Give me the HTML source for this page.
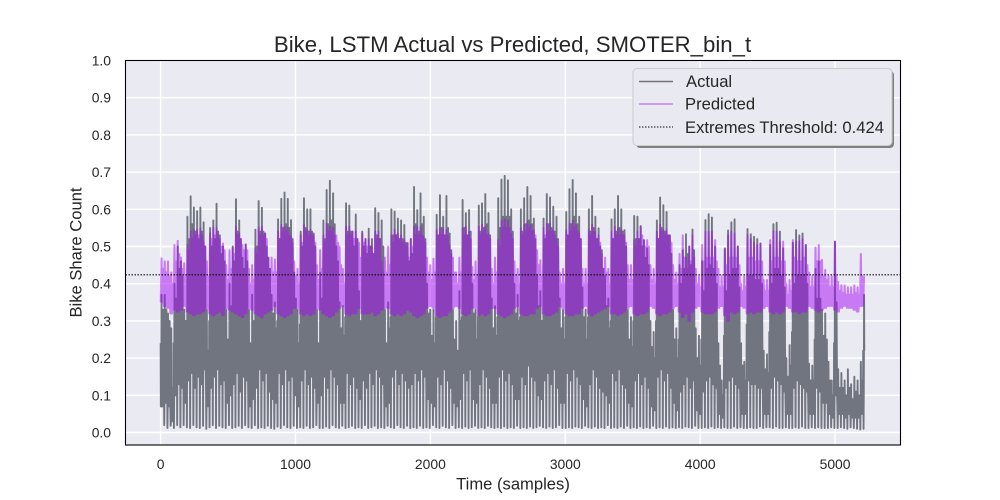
<!DOCTYPE html>
<html lang="en">
<head>
<meta charset="utf-8">
<title>Bike, LSTM Actual vs Predicted, SMOTER_bin_t</title>
<style>
html,body{margin:0;padding:0;background:#fff;}
svg{display:block;}
text{font-family:"Liberation Sans",Arial,sans-serif;fill:#262626;}
</style>
</head>
<body>
<svg id="chart" width="1000" height="500" viewBox="0 0 1000 500" xmlns="http://www.w3.org/2000/svg">
  <rect x="125.5" y="60.5" width="775" height="384.5" fill="#eaeaf2"/>
  <g id="grid"></g>
  <g id="series"></g>
  <rect x="125.5" y="60.5" width="775" height="384.5" fill="none" stroke="#000" stroke-width="1.1"/>
  <g id="ticks"></g>
  <text x="512.5" y="52" text-anchor="middle" font-size="22.2">Bike, LSTM Actual vs Predicted, SMOTER_bin_t</text>
  <text x="513" y="489.5" text-anchor="middle" font-size="16.6">Time (samples)</text>
  <text transform="translate(81.5,252.5) rotate(-90)" text-anchor="middle" font-size="16.6">Bike Share Count</text>
  <g>
    <rect x="636" y="71" width="258" height="77" rx="4" fill="#808080"/>
    <rect x="633" y="68.5" width="259" height="77" rx="4" fill="#e9e9f1" stroke="#cccccc"/>
    <line x1="639" x2="673" y1="81.5" y2="81.5" stroke="#71757f" stroke-width="1.4"/>
    <text x="686" y="87" font-size="16.6">Actual</text>
    <line x1="639" x2="673" y1="104" y2="104" stroke="#c87af5" stroke-width="1.4"/>
    <text x="685" y="109.5" font-size="16.6">Predicted</text>
    <line x1="639" x2="673" y1="127" y2="127" stroke="#000" stroke-width="1.1" stroke-dasharray="1.4 1.6"/>
    <text x="685" y="133" font-size="16.6">Extremes Threshold: 0.424</text>
  </g>
</svg>
<script>
const xTickValues = [0,1000,2000,3000,4000,5000];
const yTickValues = [0,0.1,0.2,0.3,0.4,0.5,0.6,0.7,0.8,0.9,1];
const thresholdValues = [0.424];
const totalSamples = [5217];
const samplesPerDay = [24];

// One entry per day of the hourly series.
const actualPeak = [
.37,.37,.32,.28,.40,.50,.46,.33,
.58,.635,.605,.595,.605,.565,.33,
.55,.57,.615,.53,.50,.33,.40,
.50,.627,.57,.47,.505,.33,.37,
.545,.622,.604,.535,.47,.37,.35,
.573,.628,.645,.628,.571,.43,.33,
.54,.63,.60,.60,.535,.33,.43,
.57,.652,.677,.643,.50,.35,.34,
.616,.61,.54,.586,.38,.54,.52,.548,.52,.603,.59,.57,.33,.35,
.60,.594,.575,.57,.558,.508,
.52,.66,.598,.643,.58,.40,.33,.33,
.585,.638,.58,.636,.535,.33,.30,.38,
.625,.59,.598,.40,.33,
.61,.616,.641,.59,.36,.34,
.63,.68,.69,.678,.60,.40,.37,
.60,.63,.66,.636,.575,.42,.38,
.575,.641,.632,.607,.58,.36,.33,
.593,.654,.679,.643,.58,.39,.33,
.60,.636,.58,.549,.49,.42,.36,
.573,.60,.636,.60,.544,.33,.31,
.582,.58,.555,.517,.495,.30,.27,
.57,.632,.611,.593,.53,.33,.28,
.45,.49,.533,.50,.546,.28,.26,
.46,.571,.587,.578,.50,.24,.14,
.495,.543,.565,.573,.50,.24,.19,
.547,.533,.526,.52,.508,.22,.21,
.504,.56,.564,.54,.495,.20,.235,
.51,.544,.53,.535,.504,.185,.18,
.44,.46,.33,.32,.19,.14,.513,
.17,.16,.14,.17,.13,.15,.14,.19,.37];

const actualSecond = [
.33,.33,.30,.12,.36,.44,.42,.30,
.52,.56,.54,.52,.54,.50,.22,
.50,.52,.54,.48,.46,.25,.34,
.46,.54,.52,.44,.46,.24,.30,
.50,.54,.54,.50,.44,.32,.28,
.52,.55,.56,.55,.52,.36,.24,
.50,.55,.54,.54,.50,.24,.36,
.52,.56,.57,.56,.46,.28,.26,
.54,.54,.50,.52,.30,.50,.48,.50,.48,.53,.52,.50,.24,.28,
.53,.53,.52,.52,.51,.46,
.48,.56,.54,.56,.52,.32,.26,.24,
.53,.55,.53,.55,.49,.25,.22,.30,
.55,.53,.54,.32,.25,
.54,.55,.56,.53,.28,.26,
.55,.58,.58,.58,.54,.32,.30,
.54,.56,.57,.56,.52,.34,.30,
.52,.56,.55,.54,.52,.28,.25,
.53,.56,.58,.56,.52,.31,.25,
.54,.55,.52,.50,.44,.34,.28,
.52,.54,.55,.54,.50,.25,.23,
.52,.52,.50,.47,.45,.23,.20,
.52,.55,.54,.53,.48,.25,.20,
.40,.44,.48,.45,.49,.20,.18,
.38,.44,.45,.44,.40,.18,.10,
.38,.42,.44,.44,.39,.18,.14,
.42,.42,.41,.41,.40,.17,.16,
.40,.44,.44,.42,.39,.15,.18,
.40,.42,.42,.42,.40,.14,.14,
.36,.36,.26,.25,.14,.10,.35,
.12,.12,.10,.12,.09,.11,.10,.14,.33];

const actualMid = [
.24,.24,.20,.07,.24,.28,.26,.18,
.30,.31,.31,.30,.30,.29,.13,
.30,.30,.31,.29,.28,.15,.20,
.28,.31,.30,.28,.28,.14,.18,
.29,.31,.31,.30,.27,.19,.16,
.30,.31,.31,.31,.30,.20,.14,
.29,.31,.31,.30,.29,.14,.20,
.30,.31,.31,.31,.28,.16,.15,
.31,.31,.29,.30,.18,.29,.28,.30,.28,.31,.30,.29,.14,.16,
.31,.31,.30,.30,.30,.27,
.28,.31,.31,.31,.30,.19,.15,.14,
.31,.31,.31,.31,.29,.15,.13,.18,
.31,.31,.31,.19,.15,
.31,.31,.31,.31,.17,.15,
.31,.31,.31,.31,.31,.19,.18,
.31,.31,.31,.31,.30,.20,.18,
.30,.31,.31,.31,.30,.17,.15,
.31,.31,.31,.31,.30,.18,.15,
.31,.31,.30,.29,.26,.20,.17,
.30,.31,.31,.31,.29,.15,.14,
.30,.30,.29,.28,.27,.14,.12,
.30,.31,.31,.31,.28,.15,.12,
.25,.27,.29,.27,.29,.12,.11,
.25,.29,.30,.29,.27,.11,.07,
.26,.29,.30,.30,.27,.11,.09,
.29,.29,.28,.28,.27,.10,.10,
.27,.30,.30,.29,.27,.09,.11,
.27,.29,.29,.29,.27,.09,.09,
.25,.25,.18,.17,.09,.07,.24,
.08,.08,.07,.08,.06,.07,.07,.09,.22];

const actualShoulder = [
.07,.08,.07,.03,.10,.13,.12,.08,
.14,.16,.12,.15,.13,.17,.07,
.12,.15,.17,.13,.14,.08,.10,
.13,.16,.11,.15,.14,.07,.09,
.12,.17,.14,.16,.11,.09,.08,
.16,.13,.17,.14,.15,.10,.07,
.14,.17,.13,.15,.12,.08,.10,
.15,.12,.17,.15,.13,.08,.08,
.16,.13,.15,.12,.09,.14,.12,.16,.13,.17,.15,.13,.07,.08,
.15,.17,.13,.16,.14,.12,
.13,.16,.14,.17,.15,.09,.08,.07,
.15,.13,.17,.14,.12,.08,.07,.09,
.16,.14,.17,.09,.08,
.13,.17,.15,.12,.08,.08,
.15,.17,.14,.16,.13,.09,.09,
.15,.13,.18,.15,.14,.10,.09,
.14,.16,.13,.17,.12,.08,.08,
.16,.14,.17,.15,.13,.09,.07,
.13,.17,.15,.12,.11,.10,.08,
.16,.14,.17,.13,.12,.08,.07,
.14,.16,.13,.15,.12,.07,.06,
.15,.17,.14,.16,.12,.08,.06,
.11,.13,.15,.12,.14,.06,.05,
.11,.14,.15,.13,.12,.05,.04,
.12,.14,.15,.13,.12,.05,.05,
.14,.13,.13,.12,.12,.05,.05,
.12,.15,.14,.13,.11,.05,.05,
.12,.14,.13,.12,.11,.05,.05,
.12,.11,.08,.08,.05,.04,.10,
.05,.05,.04,.05,.04,.04,.04,.05,.10];

const actualTrough = [
.10,.02,.012,.018,.012,.02,.014,.02,
.014,.012,.02,.014,.012,.018,.01,
.014,.02,.012,.018,.014,.012,.02,
.012,.014,.018,.012,.02,.014,.012,
.02,.012,.014,.012,.018,.012,.01,
.016,.012,.02,.014,.012,.018,.012,
.014,.012,.018,.012,.014,.02,.012,
.012,.016,.012,.02,.014,.012,.018,
.012,.014,.018,.012,.014,.012,.02,.012,.014,.018,.012,.014,.012,.018,
.014,.012,.02,.014,.012,.018,
.012,.014,.012,.018,.012,.014,.012,.02,
.014,.012,.018,.014,.012,.02,.012,.014,
.012,.016,.012,.014,.018,
.012,.014,.012,.018,.014,.012,
.014,.012,.016,.012,.014,.012,.018,
.012,.014,.012,.016,.012,.014,.018,
.014,.012,.016,.012,.014,.02,.012,
.012,.014,.012,.016,.014,.012,.018,
.014,.012,.016,.012,.014,.012,.02,
.012,.014,.012,.016,.012,.018,.012,
.014,.012,.016,.012,.014,.012,.018,
.012,.014,.012,.016,.012,.014,.012,
.014,.012,.016,.014,.012,.018,.012,
.012,.014,.012,.016,.012,.014,.012,
.014,.012,.012,.016,.012,.014,.012,
.012,.014,.012,.012,.016,.012,.014,
.014,.012,.016,.012,.012,.014,.012,
.012,.014,.012,.016,.012,.012,.014,
.012,.014,.012,.012,.012,.014,.012,
.012,.014,.012,.01,.014,.012,.01,.008,.01];

const predictedPeak = [
.468,.46,.46,.43,.504,.515,.47,.455,
.504,.54,.544,.544,.549,.513,.46,
.535,.55,.55,.52,.508,.45,.49,
.497,.553,.535,.504,.506,.44,.45,
.495,.551,.553,.535,.47,.47,.465,
.54,.558,.553,.551,.526,.46,.44,
.53,.558,.544,.544,.53,.45,.49,
.53,.562,.553,.55,.53,.50,.44,
.553,.553,.54,.54,.51,.535,.52,.52,.50,.54,.54,.46,.47,.50,
.53,.546,.535,.53,.517,.51,
.52,.553,.553,.551,.526,.47,.45,.467,
.544,.549,.549,.544,.504,.47,.43,.47,
.549,.553,.54,.445,.46,
.553,.558,.553,.535,.44,.47,
.517,.57,.573,.57,.535,.46,.44,
.549,.558,.567,.558,.544,.49,.463,
.55,.562,.562,.544,.52,.43,.44,
.544,.562,.569,.558,.535,.44,.44,
.544,.558,.54,.53,.48,.47,.44,
.54,.553,.549,.544,.53,.45,.45,
.517,.54,.553,.517,.517,.45,.44,
.54,.558,.544,.544,.53,.45,.43,
.48,.53,.47,.50,.53,.44,.42,
.504,.54,.54,.54,.517,.44,.42,
.493,.53,.54,.535,.50,.40,.42,
.53,.52,.51,.504,.508,.41,.41,
.517,.54,.54,.513,.513,.40,.41,
.517,.513,.513,.52,.504,.43,.42,
.497,.504,.464,.437,.42,.42,.513,
.405,.396,.395,.39,.39,.395,.39,.48,.42];

const predictedSecond = [
.44,.43,.42,.40,.46,.48,.44,.42,
.49,.52,.53,.53,.53,.50,.42,
.52,.53,.53,.50,.49,.41,.44,
.48,.53,.52,.49,.49,.40,.41,
.48,.53,.53,.52,.44,.43,.43,
.52,.54,.54,.53,.51,.42,.40,
.51,.54,.53,.53,.51,.41,.44,
.51,.54,.54,.53,.51,.45,.40,
.53,.53,.52,.52,.47,.51,.50,.50,.48,.52,.52,.43,.43,.45,
.51,.53,.52,.51,.50,.47,
.50,.53,.53,.53,.51,.43,.41,.43,
.53,.53,.53,.53,.48,.43,.40,.43,
.53,.53,.52,.41,.42,
.53,.54,.53,.52,.40,.43,
.50,.55,.55,.55,.52,.42,.40,
.53,.54,.55,.54,.53,.45,.42,
.53,.54,.54,.53,.50,.40,.40,
.53,.54,.55,.54,.52,.40,.40,
.53,.54,.52,.51,.44,.43,.40,
.52,.53,.53,.53,.51,.41,.41,
.50,.52,.53,.50,.50,.41,.40,
.52,.54,.53,.53,.51,.41,.40,
.44,.47,.44,.46,.47,.40,.39,
.46,.47,.47,.47,.46,.39,.39,
.45,.47,.47,.47,.45,.38,.39,
.47,.47,.46,.46,.46,.38,.38,
.46,.47,.47,.46,.46,.37,.38,
.47,.46,.46,.47,.45,.39,.39,
.46,.46,.42,.41,.39,.39,.42,
.38,.375,.37,.37,.37,.375,.37,.42,.39];

const predictedLow = [
.35,.34,.335,.32,.33,.325,.33,.34,
.325,.32,.315,.32,.32,.325,.335,
.32,.315,.32,.325,.315,.335,.33,
.325,.32,.315,.31,.32,.335,.33,
.32,.315,.31,.32,.325,.33,.34,
.32,.315,.31,.315,.32,.335,.335,
.32,.315,.32,.315,.32,.335,.33,
.32,.315,.31,.315,.325,.335,.34,
.32,.315,.32,.32,.335,.32,.32,.32,.325,.315,.32,.33,.335,.335,
.32,.315,.32,.315,.32,.33,
.325,.315,.31,.315,.32,.335,.34,.335,
.315,.31,.315,.315,.325,.335,.34,.335,
.32,.315,.32,.335,.335,
.315,.32,.315,.32,.335,.335,
.32,.315,.31,.315,.32,.335,.34,
.32,.315,.315,.32,.32,.335,.34,
.32,.315,.315,.32,.325,.34,.335,
.32,.315,.315,.32,.32,.335,.34,
.32,.315,.32,.325,.33,.335,.34,
.32,.32,.315,.32,.325,.335,.34,
.32,.315,.32,.32,.325,.34,.335,
.32,.315,.32,.32,.325,.335,.34,
.325,.31,.32,.30,.325,.335,.34,
.325,.32,.32,.32,.325,.335,.34,
.315,.30,.325,.32,.325,.34,.335,
.32,.325,.32,.325,.325,.335,.34,
.325,.32,.325,.32,.325,.34,.335,
.325,.325,.32,.325,.325,.34,.335,
.33,.325,.33,.335,.34,.34,.33,
.325,.335,.34,.335,.335,.33,.325,.34,.34];

const axesLeft = 125.5, axesRight = 900.5, axesTop = 60.5, axesBottom = 445;
const xDomain = [-260, 5485];
const yDomain = [-0.0336, 1];
function xScale(v){ return axesLeft + (v - xDomain[0]) / (xDomain[1] - xDomain[0]) * (axesRight - axesLeft); }
function yScale(v){ return axesBottom - (v - yDomain[0]) / (yDomain[1] - yDomain[0]) * (axesBottom - axesTop); }

const NS = 'http://www.w3.org/2000/svg';
const gridLayer = document.getElementById('grid');
const tickLayer = document.getElementById('ticks');
const seriesLayer = document.getElementById('series');

xTickValues.forEach(function(v){
  const g = document.createElementNS(NS, 'line');
  
  
  g.setAttribute('x1', xScale(v)); g.setAttribute('x2', xScale(v));
  g.setAttribute('y1', axesTop); g.setAttribute('y2', axesBottom);
  g.setAttribute('stroke', '#fff'); g.setAttribute('stroke-width', '1.4');
  gridLayer.appendChild(g);
  const t = document.createElementNS(NS, 'text');
  
  
  t.setAttribute('x', xScale(v)); t.setAttribute('y', 469);
  t.setAttribute('text-anchor', 'middle'); t.setAttribute('font-size', '13.9');
  t.textContent = String(v);
  tickLayer.appendChild(t);
});
yTickValues.forEach(function(v){
  const g = document.createElementNS(NS, 'line');
  
  
  g.setAttribute('x1', axesLeft); g.setAttribute('x2', axesRight);
  g.setAttribute('y1', yScale(v)); g.setAttribute('y2', yScale(v));
  g.setAttribute('stroke', '#fff'); g.setAttribute('stroke-width', '1.4');
  gridLayer.appendChild(g);
  const t = document.createElementNS(NS, 'text');
  
  
  t.setAttribute('x', 111); t.setAttribute('y', yScale(v) + 5);
  t.setAttribute('text-anchor', 'end'); t.setAttribute('font-size', '13.9');
  t.textContent = v.toFixed(1);
  tickLayer.appendChild(t);
});

function buildPath(vertexList){
  return vertexList.map(function(p, i){
    return (i ? 'L' : 'M') + xScale(p[0]).toFixed(2) + ' ' + yScale(p[1]).toFixed(2);
  }).join('');
}
function keepInRange(list){
  return list.filter(function(p){ return p[0] <= totalSamples[0]; });
}

const actualVertices = [];
actualPeak.forEach(function(peak, d){
  const t = d * samplesPerDay[0];
  actualVertices.push([t + 0.5, actualMid[d]]);
  actualVertices.push([t + 2, actualShoulder[d]]);
  actualVertices.push([t + 3, actualTrough[d]]);
  actualVertices.push([t + 4.5, actualShoulder[d]]);
  actualVertices.push([t + 6, actualMid[d]]);
  actualVertices.push([t + 7, peak]);
  actualVertices.push([t + 8.5, actualMid[d]]);
  actualVertices.push([t + 11, actualShoulder[d]]);
  actualVertices.push([t + 13, actualMid[d]]);
  actualVertices.push([t + 15, actualShoulder[d]]);
  actualVertices.push([t + 18, actualMid[d]]);
  actualVertices.push([t + 19, actualSecond[d]]);
  actualVertices.push([t + 20.5, actualMid[d]]);
  actualVertices.push([t + 23, actualShoulder[d]]);
});
const predictedVertices = [];
predictedPeak.forEach(function(peak, d){
  const t = d * samplesPerDay[0];
  predictedVertices.push([t + 1, predictedLow[d]]);
  predictedVertices.push([t + 7, peak]);
  predictedVertices.push([t + 13, predictedLow[d]]);
  predictedVertices.push([t + 19, predictedSecond[d]]);
});

const actualLine = document.createElementNS(NS, 'path');


actualLine.setAttribute('d', buildPath(keepInRange(actualVertices)));
actualLine.setAttribute('fill', 'none');
actualLine.setAttribute('stroke', '#71757f');
actualLine.setAttribute('stroke-width', '1.9');
actualLine.setAttribute('stroke-linejoin', 'round');
seriesLayer.appendChild(actualLine);

const predictedLine = document.createElementNS(NS, 'path');


predictedLine.setAttribute('d', buildPath(keepInRange(predictedVertices)));
predictedLine.setAttribute('fill', 'none');
predictedLine.setAttribute('stroke', '#a60af8');
predictedLine.setAttribute('stroke-opacity', '0.5');
predictedLine.setAttribute('stroke-width', '2');
predictedLine.setAttribute('stroke-linejoin', 'round');
seriesLayer.appendChild(predictedLine);

const thresholdLine = document.createElementNS(NS, 'line');


thresholdLine.setAttribute('x1', axesLeft); thresholdLine.setAttribute('x2', axesRight);
thresholdLine.setAttribute('y1', yScale(thresholdValues[0])); thresholdLine.setAttribute('y2', yScale(thresholdValues[0]));
thresholdLine.setAttribute('stroke', '#000');
thresholdLine.setAttribute('stroke-width', '1.1');
thresholdLine.setAttribute('stroke-dasharray', '1.4 1.6');
seriesLayer.appendChild(thresholdLine);
</script>
</body>
</html>
